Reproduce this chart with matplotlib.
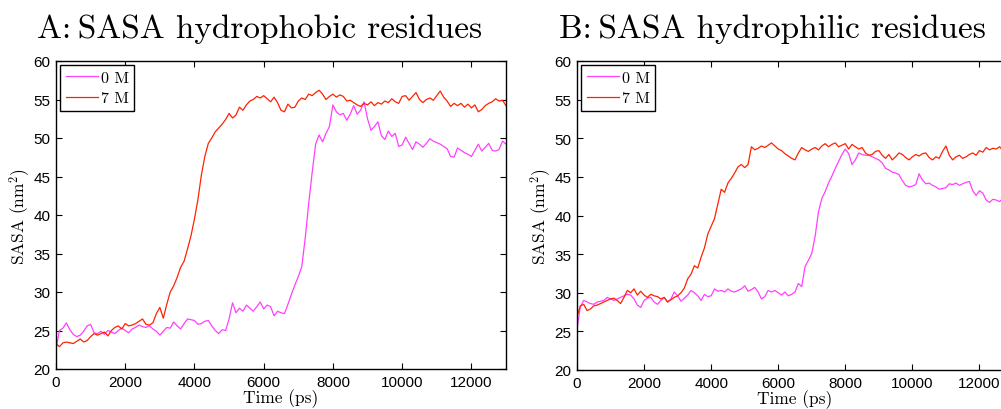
import numpy as np
import matplotlib
matplotlib.use('Agg')
import matplotlib.pyplot as plt

plt.rcParams['mathtext.fontset'] = 'cm'

# Time axis, one reading every 100 ps.
time_ps = np.arange(0, 13001, 100)

# A: hydrophobic residues, SASA (nm^2).
phob_0M = [
    22.6, 25.0, 25.3, 26.0, 25.1, 24.5, 24.2, 24.4, 24.9, 25.6,
    25.8, 24.7, 24.6, 24.9, 24.5, 25.0, 24.8, 24.6, 25.0, 25.3,
    25.0, 24.7, 25.2, 25.4, 25.7, 25.5, 25.4, 25.6, 25.2, 24.9,
    24.4, 24.9, 25.4, 25.3, 26.1, 25.6, 25.2, 25.9, 26.5, 26.4,
    26.3, 25.8, 25.9, 26.2, 26.3, 25.6, 25.0, 24.6, 25.1, 25.0,
    26.5, 28.6, 27.3, 27.9, 27.5, 28.3, 27.9, 27.5, 28.1, 28.7,
    27.8, 28.3, 28.1, 26.9, 27.5, 27.3, 27.2, 28.4, 29.7, 30.9,
    32.0, 33.3, 37.0, 41.5, 45.5, 49.2, 50.4, 49.5, 50.6, 51.5,
    54.3, 53.4, 53.0, 53.2, 52.3, 53.1, 54.2, 53.1, 53.6, 54.7,
    52.5, 51.0, 51.5, 52.1, 50.3, 49.8, 50.9, 50.2, 50.6, 48.9,
    49.1, 50.1, 49.3, 48.5, 49.5, 49.2, 48.8, 49.3, 49.9, 49.6,
    49.4, 49.2, 48.9, 48.6, 47.6, 47.5, 48.7, 48.4, 48.1, 47.9,
    47.6, 48.4, 49.2, 48.3, 48.8, 49.3, 48.4, 48.3, 48.5, 49.6,
    49.2,
]
phob_7M = [
    23.3, 22.9, 23.4, 23.5, 23.4, 23.3, 23.6, 23.9, 23.5, 23.7,
    24.2, 24.6, 24.4, 24.6, 24.8, 24.3, 25.0, 25.4, 25.6, 25.2,
    25.9, 25.6, 25.7, 25.9, 26.2, 26.5, 25.8, 25.7, 26.0, 27.2,
    28.0, 26.6, 28.4, 30.0, 30.8, 31.9, 33.2, 34.0, 35.6, 37.3,
    39.5, 42.0, 45.2, 47.6, 49.3, 50.0, 50.8, 51.3, 51.8, 52.4,
    53.2, 52.6, 53.0, 54.0, 53.6, 54.3, 54.8, 55.0, 55.4, 55.2,
    55.5, 55.1, 54.7, 55.3, 54.6, 53.6, 53.4, 54.4, 53.9, 54.0,
    54.8, 55.2, 55.0, 55.7, 55.5, 55.9, 56.2, 55.7, 55.0, 55.4,
    55.7, 55.3, 55.6, 55.4, 54.8, 54.9, 54.6, 54.3, 54.1, 54.5,
    54.3, 54.7, 54.2, 54.6, 54.4, 54.8, 54.6, 55.1, 54.7, 54.5,
    55.4, 55.5, 54.9, 55.4, 55.9, 55.0, 54.6, 55.0, 55.2, 54.9,
    55.5, 56.1, 55.3, 54.8, 54.1, 54.5, 54.2, 54.5, 54.0, 54.4,
    53.9, 54.3, 53.4, 53.7, 54.2, 54.5, 54.7, 55.1, 54.8, 54.9,
    54.2,
]

# B: hydrophilic residues.
phil_0M = [
    25.3, 28.2, 29.0, 28.8, 28.6, 28.5, 28.8, 28.9, 29.0, 29.4,
    29.2, 29.0, 29.2, 29.4, 29.6, 29.8, 29.7, 29.2, 28.4, 28.1,
    29.0, 29.3, 29.4, 28.8, 28.5, 29.0, 29.4, 28.8, 29.2, 30.1,
    29.6, 28.9, 29.3, 29.7, 30.3, 30.0, 29.6, 29.0, 29.8, 29.5,
    29.6, 30.5, 30.2, 30.3, 30.1, 30.5, 30.2, 30.1, 30.3, 30.5,
    30.9, 30.2, 30.4, 30.7, 30.1, 29.2, 29.5, 30.3, 30.1, 30.3,
    30.0, 29.7, 30.1, 29.6, 29.8, 30.1, 31.2, 30.8, 33.4, 34.2,
    35.1, 37.3, 40.5, 42.2, 43.1, 44.2, 45.1, 46.1, 47.0, 47.9,
    48.6, 48.0, 46.6, 47.2, 48.1, 47.9, 47.8, 47.8, 47.6, 47.4,
    47.2, 46.8, 46.1, 45.9, 45.6, 45.5, 45.3, 44.5, 43.9, 43.7,
    43.8, 44.0, 45.4, 44.6, 44.1, 44.2, 43.9, 43.7, 43.4, 43.5,
    43.6, 44.1, 44.0, 44.2, 43.9, 44.1, 44.3, 44.4, 43.2, 42.6,
    43.2, 42.9, 42.0, 41.7, 42.1, 42.0, 41.8, 42.2, 41.9, 42.1,
    42.0,
]
phil_7M = [
    26.9, 28.3, 28.5, 27.7, 27.9, 28.3, 28.4, 28.6, 28.8, 29.0,
    29.2, 29.3, 29.0, 28.6, 29.4, 30.3, 30.0, 30.5, 29.7, 30.2,
    29.7, 29.4, 29.8, 29.6, 29.5, 29.2, 29.4, 28.8, 29.1, 29.4,
    29.6, 30.0, 30.6, 31.8, 32.4, 33.5, 33.2, 34.6, 35.8, 37.6,
    38.6, 39.6, 41.5, 43.4, 43.0, 44.2, 44.8, 45.5, 46.3, 46.6,
    46.2, 46.6, 48.9, 48.5, 48.7, 49.0, 48.8, 49.1, 49.4, 49.0,
    48.6, 48.4, 48.0, 47.7, 47.4, 47.2, 48.1, 48.8, 48.5, 48.3,
    48.6, 48.8, 48.5, 49.0, 49.3, 48.9, 49.2, 49.4, 48.9, 49.1,
    49.3, 48.6, 49.2, 48.9, 48.6, 48.8, 48.1, 47.8, 47.9, 48.3,
    48.4, 47.8, 47.4, 47.9, 47.2, 47.6, 48.1, 47.9, 47.5, 47.2,
    47.6, 47.9, 47.7, 48.0, 48.1, 47.5, 47.2, 47.6, 47.4, 48.3,
    49.0, 47.8, 47.2, 47.6, 47.8, 47.4, 47.6, 47.9, 48.1, 47.8,
    48.4, 48.2, 48.8, 48.5, 48.7, 48.6, 48.9, 48.4, 48.7, 48.5,
    48.6,
]

titles = ['A:\u2009SASA hydrophobic residues', 'B:\u2009SASA hydrophilic residues']
series_labels = ['0 M', '7 M']
col_0M = '#ff40ff'
col_7M = '#ff2200'

serif = 'cmr10'
sans = 'Liberation Sans'

fig = plt.figure(figsize=(10.01, 4.10), dpi=100)

# the right panel runs past the edge of the figure, like the original
ax1 = fig.add_axes([56/1001, 40/410, 450/1001, 308/410])
ax2 = fig.add_axes([577/1001, 39/410, 436/1001, 309/410])

panels = [(ax1, phob_0M, phob_7M, 37), (ax2, phil_0M, phil_7M, 559)]

for i, (ax, y0, y7, title_x) in enumerate(panels):
    ax.plot(time_ps, y0, color=col_0M, lw=0.9, label=series_labels[0])
    ax.plot(time_ps, y7, color=col_7M, lw=0.9, label=series_labels[1])

    ax.set_xlim(0, 13000)
    ax.set_ylim(20, 60)
    ax.set_xticks(range(0, 13000, 2000))
    ax.set_yticks(range(20, 61, 5))

    ax.tick_params(direction='in', top=True, right=True, length=4,
                   width=0.8, labelsize=11, pad=4)
    for lab in ax.get_xticklabels() + ax.get_yticklabels():
        lab.set_fontfamily(sans)
    for sp in ax.spines.values():
        sp.set_linewidth(1.0)

    ax.set_xlabel('Time (ps)', fontfamily=serif, fontsize=12.5, labelpad=0)
    ax.set_ylabel(r'SASA (nm$^2$)', fontfamily=serif, fontsize=12.5, labelpad=1)

    leg = ax.legend(loc='upper left', prop={'family': serif, 'size': 11.5},
                    fancybox=False, framealpha=1, edgecolor='black',
                    handlelength=2.0, handletextpad=0.2, borderpad=0.35,
                    labelspacing=0.4, borderaxespad=0.25)
    leg.get_frame().set_linewidth(1.0)

    fig.text(title_x/1001, 1 - 38/410, titles[i], fontfamily=[serif, 'DejaVu Serif'],
             fontsize=24, ha='left', va='baseline')

fig.savefig('out.png', dpi=100)
